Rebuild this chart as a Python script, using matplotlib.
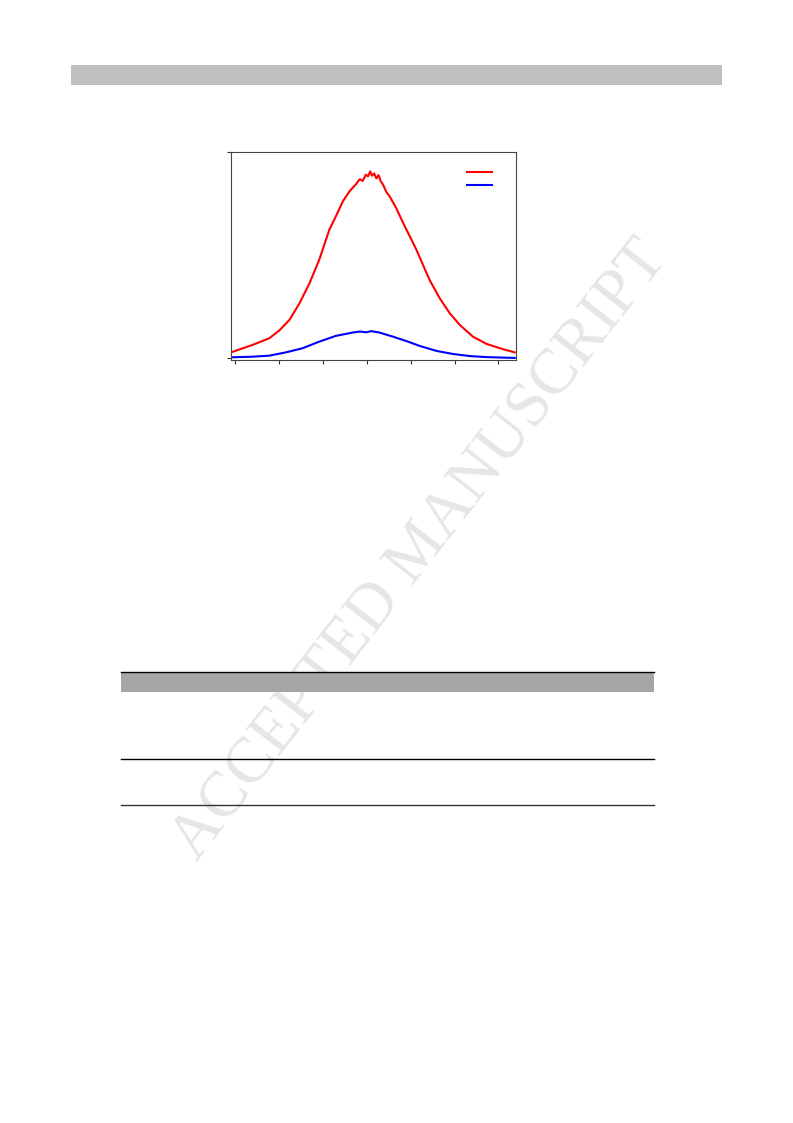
import matplotlib
matplotlib.use("Agg")
import matplotlib.pyplot as plt
from matplotlib.lines import Line2D
from matplotlib.patches import Rectangle

# ---- data (arbitrary units; x ticks at 0..6, y 0..100) ----
red_x = [-0.09, 0.40, 0.78, 1.01, 1.24, 1.47, 1.70, 1.92, 2.15, 2.30, 2.46, 2.61,
         2.76, 2.84, 2.91, 2.98, 3.03, 3.08, 3.12, 3.17, 3.22, 3.27, 3.32, 3.37,
         3.45, 3.52, 3.67, 3.83, 3.98, 4.13, 4.28, 4.43, 4.66, 4.89, 5.12, 5.42,
         5.73, 6.11, 6.37]
red_y = [2.9, 6.5, 9.7, 13.5, 18.6, 26.7, 36.5, 47.8, 62.4, 68.9, 76.2, 81.0,
         84.5, 86.8, 86.0, 89.0, 88.2, 90.6, 88.5, 89.6, 87.2, 88.8, 85.8, 84.3,
         80.5, 78.6, 72.9, 65.6, 59.2, 52.7, 45.4, 38.1, 29.2, 21.9, 16.2, 10.5,
         7.0, 4.4, 2.9]

blue_x = [-0.09, 0.40, 0.78, 1.16, 1.54, 1.92, 2.30, 2.68, 2.85, 2.99, 3.10,
          3.29, 3.60, 3.90, 4.21, 4.59, 4.97, 5.35, 5.73, 6.37]
blue_y = [0.5, 0.8, 1.3, 2.9, 4.9, 8.1, 10.9, 12.5, 13.0, 12.6, 13.2,
          12.5, 10.5, 8.4, 6.0, 3.6, 2.1, 1.1, 0.6, 0.2]

x_ticks = [0, 1, 2, 3, 4, 5, 6]
y_ticks = [0, 100]

W, H = 793, 1123
fig = plt.figure(figsize=(W / 100, H / 100), dpi=100)

def fx(px):
    return px / W

def fy(py):
    return 1 - py / H

# top grey bar
fig.patches.append(Rectangle((fx(71), fy(85)), fx(722) - fx(71), fy(65) - fy(85),
                             transform=fig.transFigure, facecolor="#bfbfbf",
                             edgecolor="none", zorder=0))

# table header band and rules
fig.patches.append(Rectangle((fx(121), fy(692)), fx(654) - fx(121), fy(672) - fy(692),
                             transform=fig.transFigure, facecolor="#a6a6a6",
                             edgecolor="none", zorder=0))
for yy, col in [(671.5, "#000000"), (759, "#000000"), (805, "#333333")]:
    fig.lines.append(Line2D([fx(121), fx(654)], [fy(yy), fy(yy)],
                            transform=fig.transFigure, color=col, linewidth=1.0))

# chart
ax = fig.add_axes([fx(231), fy(360), fx(516) - fx(231), fy(152) - fy(360)])
l1, = ax.plot(red_x, red_y, color="#ff0000", linewidth=1.5)
l2, = ax.plot(blue_x, blue_y, color="#0000ff", linewidth=1.5)
ax.set_xlim(-0.09, 6.40)
ax.set_ylim(-0.8, 100)
ax.set_xticks(x_ticks)
ax.set_yticks(y_ticks)
ax.set_xticklabels([])
ax.set_yticklabels([])
ax.tick_params(direction="out", length=3, width=0.8, color="#333333")
for s in ax.spines.values():
    s.set_color("#444444")
    s.set_linewidth(0.8)
leg = ax.legend([l1, l2], [" ", " "], loc="upper left",
                bbox_to_anchor=(0.828, 0.932), frameon=False, fontsize=9.5,
                handlelength=1.9, handletextpad=0.0, labelspacing=0.0,
                borderpad=0.0, borderaxespad=0.0)

# watermark
fig.text(fx(420), fy(550), "ACCEPTED MANUSCRIPT", rotation=52, ha="center",
         va="center", fontsize=46.5, color="#e6e6e6",
         family=["Liberation Serif", "DejaVu Serif"], zorder=-1)

fig.savefig("out.png", dpi=100)
